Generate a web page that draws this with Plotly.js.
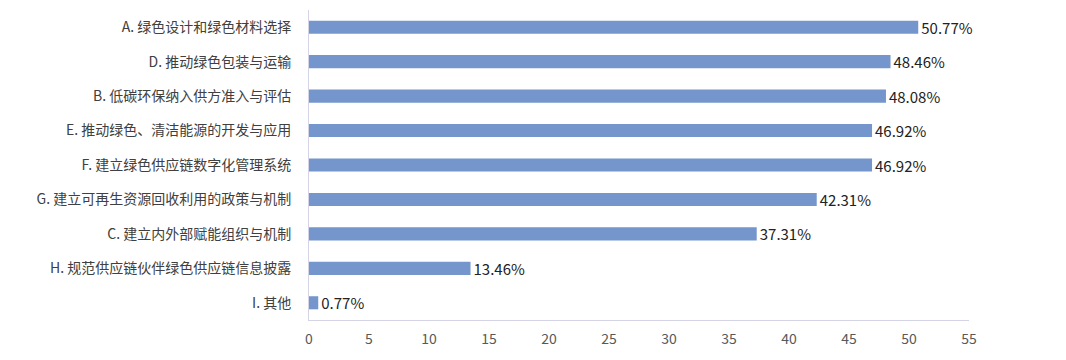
<!DOCTYPE html>
<html>
<head>
<meta charset="utf-8">
<script src="https://cdn.plot.ly/plotly-3.0.1.min.js"></script>
<style>html,body{margin:0;padding:0;background:#fff;}#chart{width:1066px;height:360px;}</style>
</head>
<body>
<div id="chart"></div>
<script>
const categories = [
  "A. 绿色设计和绿色材料选择",
  "D. 推动绿色包装与运输",
  "B. 低碳环保纳入供方准入与评估",
  "E. 推动绿色、清洁能源的开发与应用",
  "F. 建立绿色供应链数字化管理系统",
  "G. 建立可再生资源回收利用的政策与机制",
  "C. 建立内外部赋能组织与机制",
  "H. 规范供应链伙伴绿色供应链信息披露",
  "I. 其他"
];
const values = [50.77, 48.46, 48.08, 46.92, 46.92, 42.31, 37.31, 13.46, 0.77];
const valueLabels = ["50.77%", "48.46%", "48.08%", "46.92%", "46.92%", "42.31%", "37.31%", "13.46%", "0.77%"];
const xTicks = [0, 5, 10, 15, 20, 25, 30, 35, 40, 45, 50, 55];

const font = '"Noto Sans CJK SC", "Noto Sans", sans-serif';
const trace = {
  type: 'bar',
  orientation: 'h',
  y: categories,
  x: values,
  text: valueLabels,
  textposition: 'outside',
  constraintext: 'none',
  cliponaxis: false,
  textfont: {family: font, size: 15, color: '#222222'},
  marker: {color: '#7496CC'},
  hoverinfo: 'none'
};
const layout = {
  width: 1066, height: 360,
  margin: {l: 309, r: 97, t: 10, b: 40},
  paper_bgcolor: '#ffffff', plot_bgcolor: '#ffffff',
  showlegend: false,
  bargap: 0.62,
  font: {family: font},
  xaxis: {
    range: [0, 55], tickvals: xTicks, ticktext: xTicks.map(String),
    showgrid: false, zeroline: false, showline: true, linecolor: '#D4D4E6', linewidth: 1,
    ticks: '', tickfont: {family: font, size: 14, color: '#595959'}, ticklabelstandoff: 6
  },
  yaxis: {
    type: 'category', autorange: 'reversed',
    showgrid: false, zeroline: false, showline: true, linecolor: '#D4D4E6', linewidth: 1,
    ticks: '', tickfont: {family: font, size: 14, color: '#404040'}, ticklabelstandoff: 14
  }
};
Plotly.newPlot('chart', [trace], layout, {staticPlot: true, displayModeBar: false});
</script>
</body>
</html>
